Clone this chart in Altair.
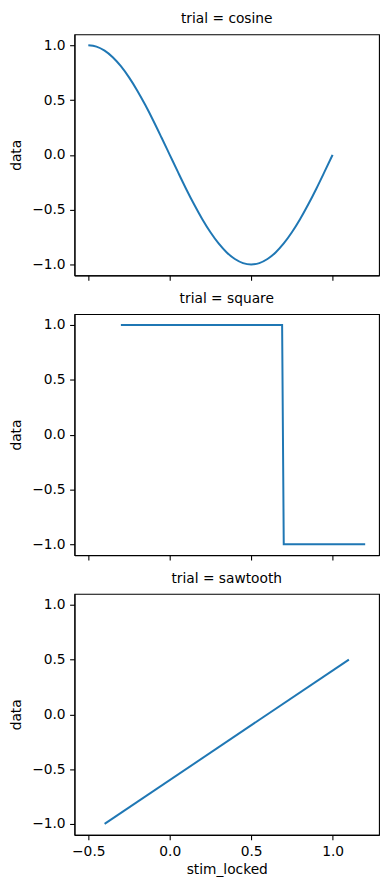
import altair as alt
import pandas as pd

# cosine trial
cos_x = [-0.5, -0.45, -0.4, -0.35, -0.3, -0.25, -0.2, -0.15, -0.1, -0.05, 0.0,
         0.05, 0.1, 0.15, 0.2, 0.25, 0.3, 0.35, 0.4, 0.45, 0.5,
         0.55, 0.6, 0.65, 0.7, 0.75, 0.8, 0.85, 0.9, 0.95, 1.0]
cos_y = [1.0, 0.988, 0.951, 0.891, 0.809, 0.707, 0.588, 0.454, 0.309, 0.156, 0.0,
         -0.156, -0.309, -0.454, -0.588, -0.707, -0.809, -0.891, -0.951, -0.988, -1.0,
         -0.988, -0.951, -0.891, -0.809, -0.707, -0.588, -0.454, -0.309, -0.156, 0.0]

# square trial
sq_x = [-0.3, 0.69, 0.70, 1.2]
sq_y = [1.0, 1.0, -1.0, -1.0]

# sawtooth trial
saw_x = [-0.4, 1.1]
saw_y = [-1.0, 0.5]

trials = ["cosine", "square", "sawtooth"]
x_ticks = [-0.5, 0.0, 0.5, 1.0]
y_ticks = [-1.0, -0.5, 0.0, 0.5, 1.0]

FONT = "DejaVu Sans"
FS = 13.9
W, H = 307, 243


def panel(name, xs, ys, bottom, interp):
    df = pd.DataFrame({"stim_locked": xs, "data": ys})
    xaxis = alt.Axis(
        values=x_ticks,
        labels=bottom,
        title="stim_locked" if bottom else None,
        labelExpr="replace(format(datum.value, '.1f'), '-', '\u2212')",
        grid=False,
        tickSize=4.9,
        labelPadding=4.5,
        titlePadding=5,
    )
    yaxis = alt.Axis(
        values=y_ticks,
        title="data",
        labelExpr="replace(format(datum.value, '.1f'), '-', '\u2212')",
        grid=False,
        tickSize=4.9,
        labelPadding=4.5,
        titlePadding=8,
    )
    return (
        alt.Chart(df)
        .mark_line(color="#1f77b4", strokeWidth=2, interpolate=interp)
        .encode(
            x=alt.X("stim_locked:Q", scale=alt.Scale(domain=[-0.585, 1.285], nice=False, zero=False), axis=xaxis),
            y=alt.Y("data:Q", scale=alt.Scale(domain=[-1.1, 1.1], nice=False, zero=False), axis=yaxis),
            order=alt.Order("stim_locked:Q"),
        )
        .properties(
            width=W,
            height=H,
            title=alt.TitleParams(
                f"trial = {name}", font=FONT, fontSize=FS, fontWeight="normal",
                color="black", anchor="middle", offset=8,
            ),
        )
    )


chart = alt.vconcat(
    panel(trials[0], cos_x, cos_y, False, "monotone"),
    panel(trials[1], sq_x, sq_y, False, "linear"),
    panel(trials[2], saw_x, saw_y, True, "linear"),
    spacing=39,
    bounds="flush",
).properties(
    padding={"left": 1, "top": 0, "right": 2, "bottom": 2},
    background="white",
).configure_view(
    stroke="black", strokeWidth=1.1
).configure_axis(
    domainColor="black", domainWidth=1.1, tickColor="black", tickWidth=1.1,
    labelFont=FONT, labelFontSize=FS, labelColor="black",
    titleFont=FONT, titleFontSize=FS, titleColor="black", titleFontWeight="normal",
)

chart.save("out.html", embed_options={"renderer": "svg", "actions": False})
